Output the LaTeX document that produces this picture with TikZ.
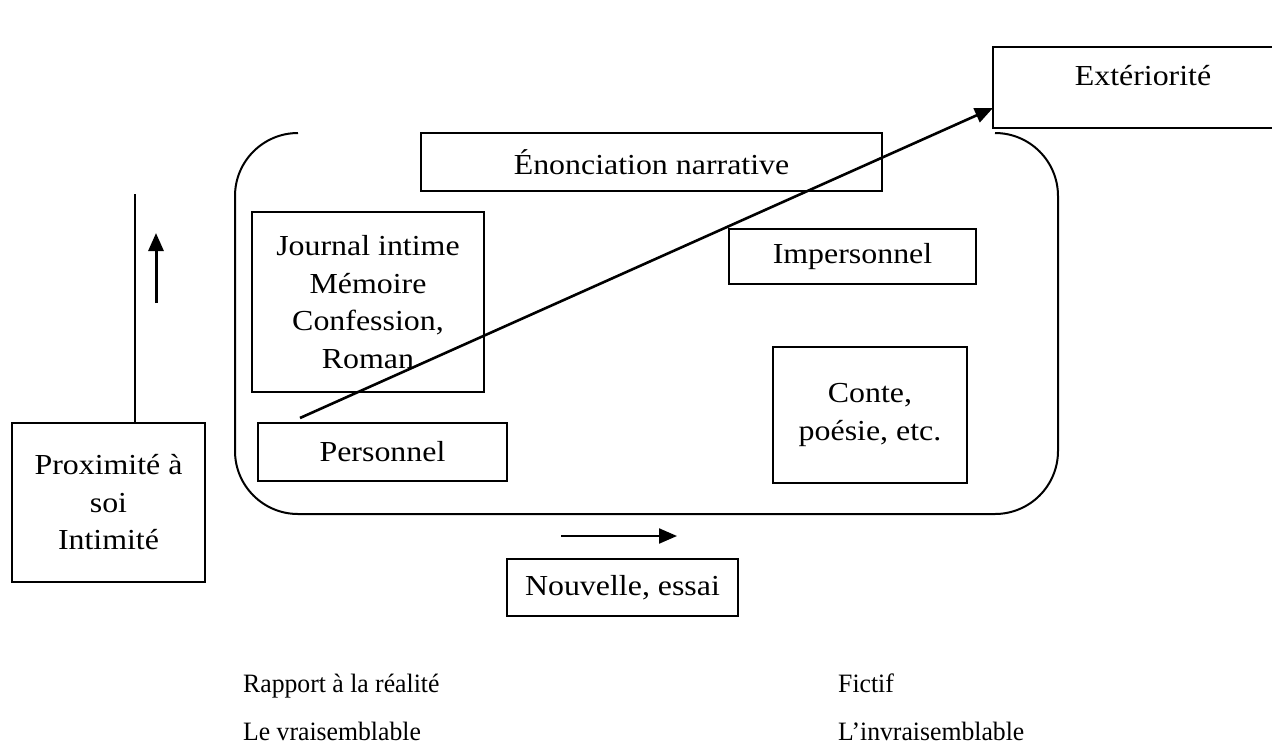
\documentclass[tikz,border=0pt]{standalone}
\usepackage{fontspec}
\setmainfont{Liberation Serif}
\newfontfamily\boxfont{Liberation Serif}[FakeStretch=1.1]
\newfontfamily\lowfont{Liberation Serif}[FakeStretch=0.97]
\usetikzlibrary{arrows.meta}
\begin{document}
\begin{tikzpicture}[x=1pt,y=-1pt,
  box/.style={draw,line width=2pt,inner sep=0pt,align=center,
    font=\boxfont\fontsize{29}{37.5}\selectfont},
  arr/.style={line width=2.5pt,-{Triangle[length=18pt,width=15pt]}},
  plain/.style={anchor=base west,inner sep=0pt,font=\lowfont\fontsize{26.5}{32}\selectfont}]
\clip (0,0) rectangle (1272,747);
\fill[white] (0,0) rectangle (1272,747);
% boxes
\node[box,minimum width=300pt,minimum height=81pt] (ext) at (1143,87.5) {\raisebox{24pt}{Extériorité}};
\node[box,minimum width=461pt,minimum height=58pt] (enon) at (651.5,162) {Énonciation narrative};
\node[box,minimum width=232pt,minimum height=180pt] (jour) at (368,302) {Journal intime\\Mémoire\\Confession,\\Roman};
\node[box,minimum width=247pt,minimum height=55pt] (imp) at (852.5,256.5) {Impersonnel};
\node[box,minimum width=194pt,minimum height=136pt] (conte) at (870,415) {Conte,\\poésie, etc.};
\node[box,minimum width=249pt,minimum height=58pt] (pers) at (382.5,452) {Personnel};
\node[box,minimum width=193pt,minimum height=159pt] (prox) at (108.5,502.5) {Proximité à\\soi\\Intimité};
\node[box,minimum width=231pt,minimum height=57pt] (nouv) at (622.5,587.5) {Nouvelle, essai};
% open rounded frame (no top edge)
\draw[line width=2pt] (298,133) arc[start angle=270,end angle=180,radius=63]
  -- (235,451) arc[start angle=180,end angle=90,radius=63]
  -- (995,514) arc[start angle=90,end angle=0,radius=63]
  -- (1058,196) arc[start angle=0,end angle=-90,radius=63];
% vertical line from Proximité box
\coordinate (vtop) at (135,194);
\draw[line width=1.6pt] (vtop |- prox.north) -- (vtop);
% small arrows
\coordinate (ua) at (156,303);
\coordinate (ub) at (156,233);
\draw[arr,line width=3pt] (ua) -- (ub);
\coordinate (ha) at (561,536);
\coordinate (hb) at (677,536);
\draw[arr,line width=2.2pt] (ha) -- (hb);
% diagonal arrow
\coordinate (da) at (300,418);
\coordinate (db) at (993,108);
\draw[arr,line width=2.6pt] (da) -- (db);
% bottom texts
\node[plain] (rap) at (243,692) {Rapport à la réalité};
\node[plain] (vrai) at (243,740) {Le vraisemblable};
\node[plain] (fic) at (838,692) {Fictif};
\node[plain] (invr) at (838,740) {L’invraisemblable};
\end{tikzpicture}
\end{document}
